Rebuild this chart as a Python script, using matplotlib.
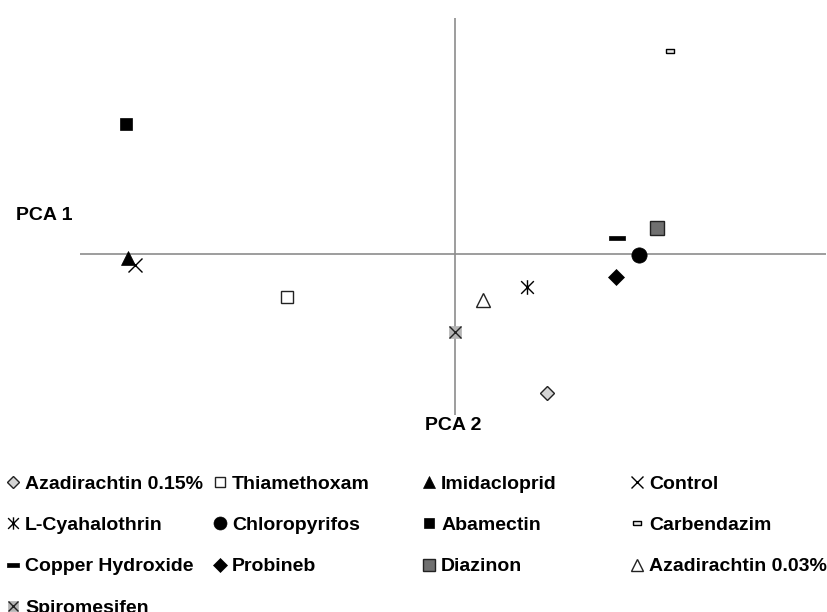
import matplotlib.pyplot as plt
from matplotlib.path import Path

plt.rcParams["font.family"] = ["Liberation Sans", "DejaVu Sans"]
plt.rcParams["font.weight"] = "bold"

# PCA scores (x = PCA 1, y = PCA 2)
treatments = ["Azadirachtin 0.15%", "Thiamethoxam", "Imidacloprid", "Control",
              "L-Cyahalothrin", "Chloropyrifos", "Abamectin", "Carbendazim",
              "Copper Hydroxide", "Probineb", "Diazinon", "Azadirachtin 0.03%",
              "Spiromesifen"]
pc1 = [0.92, -1.68, -3.27, -3.20, 0.72, 1.84, -3.29, 2.15, 1.62, 1.61, 2.02, 0.28, 0.00]
pc2 = [-1.39, -0.43, -0.04, -0.11, -0.33, -0.01, 1.30, 2.03, 0.16, -0.23, 0.26, -0.46, -0.78]

# marker shapes
star = Path([(-1, -1), (1, 1), (-1, 1), (1, -1), (0, -1.15), (0, 1.15)],
            [Path.MOVETO, Path.LINETO, Path.MOVETO, Path.LINETO, Path.MOVETO, Path.LINETO])
bar = [(-1, -0.3), (1, -0.3), (1, 0.3), (-1, 0.3), (-1, -0.3)]
small_bar = [(-1, -0.45), (1, -0.45), (1, 0.45), (-1, 0.45), (-1, -0.45)]

styles = {
    "Azadirachtin 0.15%": [dict(marker="D", ms=7.6, mfc="#d4d4d4", mec="#222222", mew=1.0)],
    "Thiamethoxam": [dict(marker="s", ms=9.2, mfc="white", mec="#222222", mew=1.0)],
    "Imidacloprid": [dict(marker="^", ms=9.8, mfc="black", mec="black", mew=0.5)],
    "Control": [dict(marker="x", ms=10.5, mec="black", mew=1.0)],
    "L-Cyahalothrin": [dict(marker=star, ms=10.5, mfc="none", mec="black", mew=1.0)],
    "Chloropyrifos": [dict(marker="o", ms=11.0, mfc="black", mec="black", mew=0.5)],
    "Abamectin": [dict(marker="s", ms=9.2, mfc="black", mec="black", mew=0.5)],
    "Carbendazim": [dict(marker=small_bar, ms=6.0, mfc="#e8e8e8", mec="black", mew=1.0)],
    "Copper Hydroxide": [dict(marker=bar, ms=11.0, mfc="black", mec="black", mew=0.5)],
    "Probineb": [dict(marker="D", ms=7.8, mfc="black", mec="black", mew=0.5)],
    "Diazinon": [dict(marker="s", ms=9.6, mfc="#707070", mec="#222222", mew=1.0)],
    "Azadirachtin 0.03%": [dict(marker="^", ms=10.5, mfc="white", mec="#222222", mew=1.0)],
    "Spiromesifen": [dict(marker="s", ms=9.2, mfc="#b4b4b4", mec="#b4b4b4", mew=0.5),
                     dict(marker="x", ms=9.0, mec="#222222", mew=1.0)],
}

fig = plt.figure(figsize=(8.28, 6.12), dpi=100)
ax = fig.add_axes([80 / 828, 1 - 415 / 612, 746 / 828, 397 / 612])
ax.set_xlim(-3.75, 3.71)
ax.set_ylim(-1.61, 2.36)
ax.axis("off")
ax.axhline(0, color="#8c8c8c", lw=1.2, zorder=1)
ax.axvline(0, color="#8c8c8c", lw=1.2, zorder=1)

handles = {}
for name, x, y in zip(treatments, pc1, pc2):
    parts = []
    for st in styles[name]:
        (ln,) = ax.plot([x], [y], linestyle="none", zorder=3, **st)
        parts.append(ln)
    handles[name] = tuple(parts) if len(parts) > 1 else parts[0]

fig.text(16 / 828, 1 - 215 / 612, "PCA 1", fontsize=14, fontweight="bold", va="center", ha="left")
fig.text(453 / 828, 1 - 425 / 612, "PCA 2", fontsize=14, fontweight="bold", va="center", ha="center")

# legend laid out as 4 separate columns (row-major order in the original)
col_x = [5.6 / 828, 212.6 / 828, 421.6 / 828, 629.6 / 828]
top_y = 1 - 475.5 / 612
for c in range(4):
    names = treatments[c::4]
    fig.legend([handles[n] for n in names], names, loc="upper left",
               bbox_to_anchor=(col_x[c], top_y), frameon=False, borderpad=0,
               borderaxespad=0, handlelength=0.8, handletextpad=0.2,
               labelspacing=1.21, markerscale=0.85,
               prop={"size": 14, "weight": "bold"})

fig.savefig("out.png", dpi=100)
